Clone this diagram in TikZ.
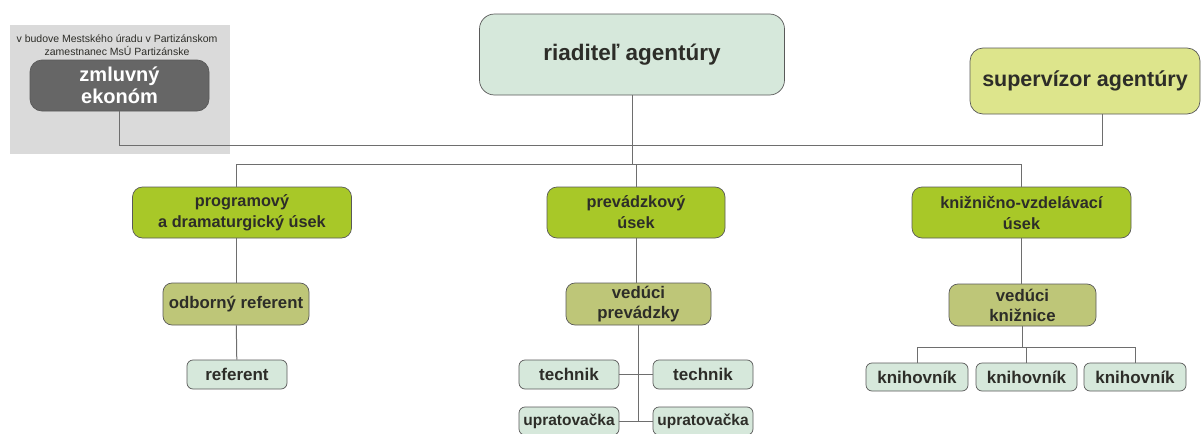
\documentclass[tikz,border=0pt]{standalone}
\usepackage{fontspec}
\setmainfont{Liberation Sans}
\usepackage{tikz}

\definecolor{mint}{RGB}{214,232,219}
\definecolor{limegreen}{RGB}{168,200,40}
\definecolor{olivebox}{RGB}{190,198,120}
\definecolor{yellowbox}{RGB}{221,229,140}
\definecolor{darkbox}{RGB}{102,102,102}
\definecolor{panel}{RGB}{218,218,218}
\definecolor{ink}{RGB}{45,45,40}
\definecolor{wire}{RGB}{110,110,110}

\begin{document}
\begin{tikzpicture}[x=1pt,y=-1pt]

\tikzset{box/.style = {shape=rectangle,draw=black!65,line width=0.7pt,text=ink,align=center,inner sep=0pt,font=\bfseries}}
\tikzset{chief/.style = {box,fill=mint,rounded corners=15pt,font=\bfseries\fontsize{22.5}{26}\selectfont}}
\tikzset{super/.style = {box,fill=yellowbox,rounded corners=13pt,font=\bfseries\fontsize{21.5}{24}\selectfont}}
\tikzset{dept/.style = {box,fill=limegreen,rounded corners=10pt,font=\bfseries\fontsize{16.3}{21}\selectfont}}
\tikzset{lead/.style = {box,fill=olivebox,rounded corners=9pt,font=\bfseries\fontsize{16.8}{20}\selectfont}}
\tikzset{staff/.style = {box,fill=mint,rounded corners=6pt,font=\bfseries\fontsize{17}{18}\selectfont}}
\tikzset{link/.style = {draw=wire,line width=1pt}}

\useasboundingbox (0,0) rectangle (1203,434);

% panel
\fill[panel] (10,25) rectangle (230,154);
\node[align=center,text=ink,font=\fontsize{10.5}{13}\selectfont] (note) at (117,45)
  {v budove Mestského úradu v Partizánskom\\zamestnanec MsÚ Partizánske};
\node[box,fill=darkbox,text=white,rounded corners=12pt,minimum width=179pt,minimum height=51pt,
  font=\bfseries\fontsize{20}{22}\selectfont] (ekonom) at (119.5,85.5) {zmluvný\\ekonóm};

% top
\node[chief,minimum width=305pt,minimum height=81pt] (riaditel) at (632,54.5) {riaditeľ agentúry};
\node[super,minimum width=230pt,minimum height=66pt] (supervizor) at (1085,81) {supervízor agentúry};

% departments
\node[dept,minimum width=219pt,minimum height=51pt] (program) at (242,212.5) {programový\\a dramaturgický úsek};
\node[dept,minimum width=178pt,minimum height=51pt] (prevadzka) at (636,212.5) {prevádzkový\\úsek};
\node[dept,minimum width=219pt,minimum height=51pt] (kniznica) at (1021.5,212.5) {knižnično-vzdelávací\\úsek};

% heads
\node[lead,minimum width=146pt,minimum height=42pt] (odborny) at (236,304) {odborný referent};
\node[lead,minimum width=145pt,minimum height=42pt] (veducip) at (638.5,304) {vedúci\\prevádzky};
\node[lead,minimum width=147pt,minimum height=42pt] (veducik) at (1022.5,305) {vedúci\\knižnice};

% staff
\node[staff,minimum width=100pt,minimum height=29pt] (referent) at (237,374.5) {referent};
\node[staff,minimum width=100pt,minimum height=29pt] (technikL) at (569,374.5) {technik};
\node[staff,minimum width=100pt,minimum height=29pt] (technikR) at (703,374.5) {technik};
\node[staff,minimum width=100pt,minimum height=28pt,font=\bfseries\fontsize{15.5}{18}\selectfont] (upratL) at (569,421) {upratovačka};
\node[staff,minimum width=100pt,minimum height=28pt,font=\bfseries\fontsize{15.5}{18}\selectfont] (upratR) at (703,421) {upratovačka};
\node[staff,minimum width=102pt,minimum height=28pt] (knihA) at (917,377) {knihovník};
\node[staff,minimum width=101pt,minimum height=28pt] (knihB) at (1026.5,377) {knihovník};
\node[staff,minimum width=102pt,minimum height=28pt] (knihC) at (1135,377) {knihovník};

% buses
\coordinate (busA) at (0,145);
\coordinate (busB) at (0,164);
\coordinate (busC) at (0,347);
\coordinate (supfoot) at ([xshift=17pt]supervizor.south);

% connectors
\draw[link] (ekonom.south) |- (busA -| supfoot) -- (supfoot);
\draw[link] (riaditel.south) -- (riaditel.south |- busB);
\draw[link] (odborny.north |- program.north) |- (kniznica.north |- busB) -- (kniznica.north);
\draw[link] (prevadzka.north) -- (prevadzka.north |- busB);

\draw[link] (odborny.north |- program.south) -- (odborny.north);
\draw[link] (odborny) -- (referent);

\draw[link] (prevadzka.south) -- (prevadzka.south |- veducip.north);
\draw[link] (veducip.south) -- (veducip.south |- upratL);
\draw[link] (technikL) -- (technikR);
\draw[link] (upratL) -- (upratR);

\draw[link] (kniznica.south) -- (kniznica.south |- veducik.north);
\draw[link] (veducik.south) -- (veducik.south |- busC);
\draw[link] (knihA.north) |- (knihC.north |- busC) -- (knihC.north);
\draw[link] (knihB.north) -- (knihB.north |- busC);

\end{tikzpicture}
\end{document}
